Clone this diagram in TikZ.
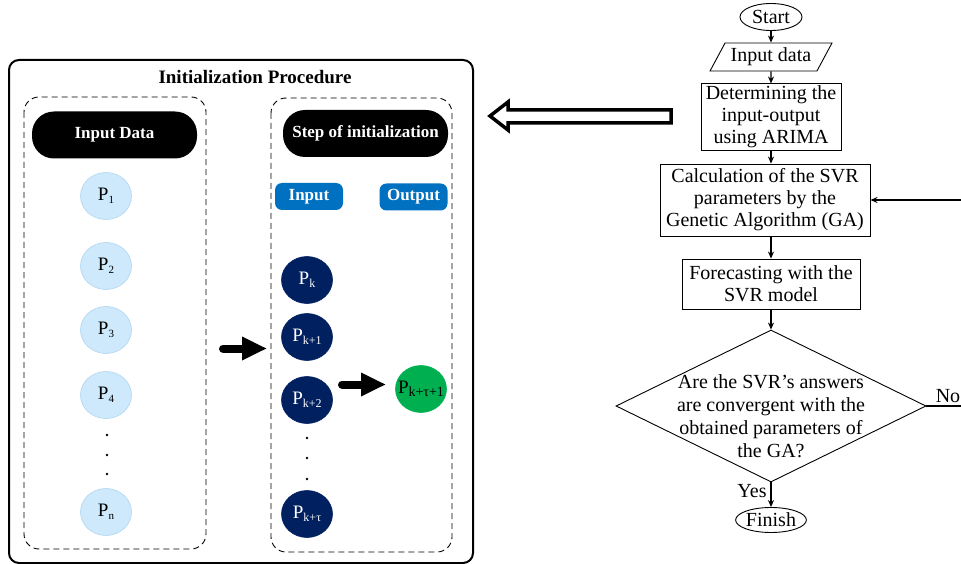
\documentclass[tikz,border=0pt]{standalone}
\usepackage{fontspec}
\setmainfont{Liberation Serif}
\usetikzlibrary{shapes.geometric,arrows.meta}
\definecolor{paleblue}{HTML}{CDE9FB}
\definecolor{paleedge}{HTML}{AFD5F0}
\definecolor{navy}{HTML}{002060}
\definecolor{tagblue}{HTML}{0070C0}
\definecolor{leafgreen}{HTML}{00B050}
\newcommand{\pvar}[2][11]{P\raisebox{-2.5pt}{\fontsize{#1}{#1}\selectfont #2}}
\tikzset{
  datacirc/.style = {ellipse, fill = paleblue, draw = paleedge, line width = .6pt,
                     minimum width = 51pt, minimum height = 47pt, inner sep = 0pt,
                     font = \fontsize{19}{19}\selectfont},
  stepcirc/.style = {datacirc, fill = navy, draw = navy, text = white},
  pill/.style = {rounded corners = 22pt, fill = black, text = white,
                 minimum width = 165pt, minimum height = 47pt, inner sep = 0pt,
                 font = \bfseries\fontsize{17}{17}\selectfont},
  tag/.style = {rounded corners = 7pt, fill = tagblue, text = white,
                minimum width = 68pt, minimum height = 27pt, inner sep = 0pt,
                font = \bfseries\fontsize{17}{17}\selectfont},
  groupbox/.style = {dash pattern = on 6pt off 4pt, line width = .9pt, rounded corners = 15pt},
  procbox/.style = {draw, line width = .9pt, align = center, inner sep = 2pt,
                    font = \fontsize{20}{22}\selectfont},
  terminal/.style = {ellipse, draw, line width = .9pt, inner sep = 0pt,
                     font = \fontsize{20}{22}\selectfont},
  flow/.style = {-{Stealth[length = 7pt, width = 6pt]}, line width = 1.2pt},
  fatarrow/.style = {line width = 8pt, line cap = round,
                     -{Triangle[length = 25pt, width = 22pt]}}
}
\begin{document}
\begin{tikzpicture}[x = 1pt, y = -1pt]
  \useasboundingbox (0,0) rectangle (961,564);
  \draw [line width = 2pt, rounded corners = 10pt] (9,60) rectangle (473,563);
  \node [font = \bfseries\fontsize{19}{19}\selectfont] (title) at (255,77) {Initialization Procedure};
  \draw [groupbox] (24,97) rectangle (206,549);
  \draw [groupbox] (271,98) rectangle (452,552);
  \node [pill] (inhead) at (114.5,135) {Input Data};
  \node [pill] (stephead) at (365.5,133.5) {Step of initialization};
  \node [tag] (intag) at (309,196.5) {Input};
  \node [tag] (outtag) at (413.5,197) {Output};

  \foreach \name/\y/\sub in {p1/196/1, p2/266/2, p3/330/3, p4/395/4, pn/512/n}
    \node [datacirc] (\name) at (106,\y) {\pvar{\sub}};
  \foreach \y in {435,455,474}
    \fill (107,\y) circle (1.4pt);

  \node [stepcirc] (pk) at (307,280) {\pvar[12]{k}};
  \node [stepcirc] (pk1) at (307,337) {\pvar[12]{k+1}};
  \node [stepcirc] (pk2) at (307,400) {\pvar[12]{k+2}};
  \node [stepcirc] (pkt) at (307,514) {\pvar[12]{k+τ}};
  \foreach \y in {438,458,479}
    \fill (307,\y) circle (1.4pt);
  \node [datacirc, fill = leafgreen, draw = leafgreen, inner xsep = -10pt] (pnext) at (421,389)
    {\pvar[14]{k+τ+1}};

  \coordinate (feedfrom) at (223,348.5);
  \coordinate (feedto) at (267,348.5);
  \draw [fatarrow] (feedfrom) -- (feedto);
  \coordinate (predfrom) at (342,384.5);
  \coordinate (predto) at (386,384.5);
  \draw [fatarrow] (predfrom) -- (predto);

  \draw [line width = 3.5pt, line join = miter]
    (490,116) -- (508,102) -- (508,110) -- (671,110) -- (671,123)
    -- (508,123) -- (508,130) -- cycle;

  \node [terminal, minimum width = 62pt, minimum height = 27pt] (start) at (771,17) {Start};
  \node [trapezium, trapezium left angle = 54, trapezium right angle = 126,
         trapezium stretches = true, draw, line width = .9pt, inner sep = 0pt,
         minimum width = 122pt, minimum height = 28pt,
         font = \fontsize{20}{22}\selectfont] (indata) at (771,57) {Input data};
  \node [procbox, minimum width = 140pt, minimum height = 64pt] (arima) at (771,117)
    {Determining the\\input-output\\using ARIMA};
  \node [procbox, minimum width = 210pt, minimum height = 72pt] (calc) at (765,200)
    {Calculation of the SVR\\parameters by the\\Genetic Algorithm (GA)};
  \node [procbox, minimum width = 178pt, minimum height = 50pt] (forecast) at (771,284)
    {Forecasting with the\\SVR model};
  \node [diamond, draw, line width = .9pt, inner sep = 0pt,
         minimum width = 310pt, minimum height = 152pt] (conv) at (771,406) {};
  \node [align = center, font = \fontsize{20}{23}\selectfont] (convtext) at (771,416)
    {Are the SVR’s answers\\are convergent with the\\obtained parameters of\\the GA?};
  \node [terminal, minimum width = 68pt, minimum height = 25pt] (finish) at (771,520) {Finish};
  \node [font = \fontsize{20}{22}\selectfont] (nolabel) at (948,396) {No};
  \node [font = \fontsize{20}{22}\selectfont] (yeslabel) at (752,491) {Yes};
  \coordinate (noturn) at (963,406);

  \draw [flow] (start) -- (indata);
  \draw [flow] (indata) -- (arima);
  \draw [flow] (arima) -- (arima |- calc.north);
  \draw [flow] (arima |- calc.south) -- (forecast);
  \draw [flow] (forecast) -- (conv);
  \draw [flow] (conv) -- (finish);
  \draw [flow] (conv.east) -- (noturn) |- (calc.east);
\end{tikzpicture}
\end{document}
